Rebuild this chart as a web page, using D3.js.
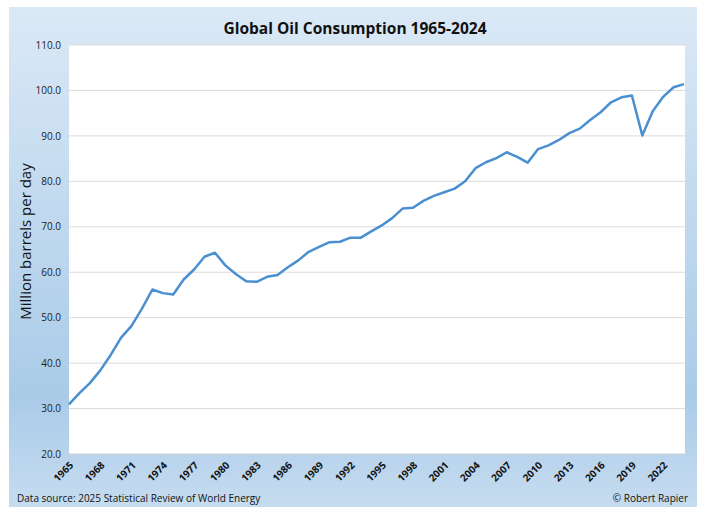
<!DOCTYPE html>
<html>
<head>
<meta charset="utf-8">
<script src="https://cdn.jsdelivr.net/npm/d3@7"></script>
<style>
  body { margin: 0; background: #fff; }
  svg { display: block; font-family: "Open Sans", "Noto Sans", sans-serif; }
</style>
</head>
<body>
<svg id="chart" width="704" height="516"></svg>
<script>
// ----------------------
// data
// ----------------------
const years = d3.range(1965, 2025);
const consumption = [
  30.9, 33.4, 35.6, 38.4, 41.8, 45.6, 48.2, 52.0, 56.2, 55.4,
  55.1, 58.4, 60.6, 63.4, 64.3, 61.5, 59.6, 58.0, 57.9, 59.0,
  59.4, 61.1, 62.6, 64.5, 65.6, 66.6, 66.7, 67.6, 67.6, 69.0,
  70.3, 71.9, 74.0, 74.2, 75.7, 76.8, 77.6, 78.4, 80.0, 82.9,
  84.2, 85.1, 86.4, 85.4, 84.1, 87.1, 87.9, 89.1, 90.6, 91.6,
  93.5, 95.2, 97.4, 98.5, 98.9, 90.1, 95.4, 98.6, 100.7, 101.4
];
const yTicks = [20, 30, 40, 50, 60, 70, 80, 90, 100, 110];
const xTickYears = d3.range(1965, 2023, 3);

const series = years.map((y, i) => ({ year: y, value: consumption[i] }));

// ----------------------
// layout
// ----------------------
const svg = d3.select("#chart");
const plot = { left: 69, right: 685, top: 45, bottom: 454 };

const defs = svg.append("defs");
const grad = defs.append("linearGradient")
    .attr("id", "bg")
    .attr("x1", 0).attr("y1", 0).attr("x2", 0).attr("y2", 1);
grad.append("stop").attr("offset", "0%").attr("stop-color", "#dbe9f6");
grad.append("stop").attr("offset", "78%").attr("stop-color", "#a9cbe8");
grad.append("stop").attr("offset", "100%").attr("stop-color", "#c6dcf0");

svg.append("rect")
    .attr("x", 9).attr("y", 7)
    .attr("width", 688).attr("height", 500)
    .attr("fill", "url(#bg)");

svg.append("rect")
    .attr("x", plot.left).attr("y", plot.top)
    .attr("width", plot.right - plot.left)
    .attr("height", plot.bottom - plot.top)
    .attr("fill", "#fff");

const x = d3.scaleLinear().domain([1965, 2024]).range([plot.left, plot.right - 1]);
const y = d3.scaleLinear().domain([20, 110]).range([plot.bottom, plot.top]);

// gridlines
svg.append("g")
    .selectAll("line")
    .data(yTicks.slice(1))
    .join("line")
    .attr("x1", plot.left).attr("x2", plot.right)
    .attr("y1", d => y(d)).attr("y2", d => y(d))
    .attr("stroke", "#dcdcdc")
    .attr("stroke-width", 1);

// y axis
const yAxis = svg.append("g")
    .attr("transform", `translate(${plot.left},0)`)
    .call(d3.axisLeft(y).tickValues(yTicks).tickFormat(d3.format(".1f")).tickSize(0).tickPadding(8));
yAxis.select(".domain").remove();
yAxis.selectAll("text")
    .attr("font-size", 10)
    .attr("fill", "#222")
    .attr("font-family", "'Open Sans', sans-serif");

// x axis: baseline only, labels drawn rotated below
svg.append("line")
    .attr("x1", plot.left).attr("x2", plot.right)
    .attr("y1", plot.bottom).attr("y2", plot.bottom)
    .attr("stroke", "#d0d0d0");

const c45 = Math.SQRT1_2;
svg.append("g")
    .selectAll("text")
    .data(xTickYears)
    .join("text")
    .attr("transform", d => `matrix(${c45},${-c45},${c45},${c45},${x(d) + 5},${plot.bottom + 12})`)
    .attr("text-anchor", "end")
    .attr("font-size", 10)
    .attr("font-weight", "bold")
    .attr("fill", "#111")
    .text(d => d);

// line
const lineGen = d3.line()
    .x(d => x(d.year))
    .y(d => y(d.value));

svg.append("path")
    .datum(series)
    .attr("fill", "none")
    .attr("stroke", "#4a90d0")
    .attr("stroke-width", 2.5)
    .attr("stroke-linejoin", "round")
    .attr("d", lineGen);

// titles
svg.append("text")
    .attr("x", 355).attr("y", 34)
    .attr("text-anchor", "middle")
    .attr("font-size", 15.5)
    .attr("font-weight", "bold")
    .attr("fill", "#111")
    .text("Global Oil Consumption 1965-2024");

svg.append("text")
    .attr("transform", `translate(31,${(plot.top + plot.bottom) / 2 - 8}) rotate(-90)`)
    .attr("text-anchor", "middle")
    .attr("font-size", 15)
    .attr("fill", "#111")
    .text("Million barrels per day");

svg.append("text")
    .attr("x", 17).attr("y", 502)
    .attr("font-size", 10)
    .attr("fill", "#111")
    .text("Data source: 2025 Statistical Review of World Energy");

svg.append("text")
    .attr("x", 688).attr("y", 502)
    .attr("text-anchor", "end")
    .attr("font-size", 10)
    .attr("fill", "#111")
    .text("© Robert Rapier");
</script>
</body>
</html>
